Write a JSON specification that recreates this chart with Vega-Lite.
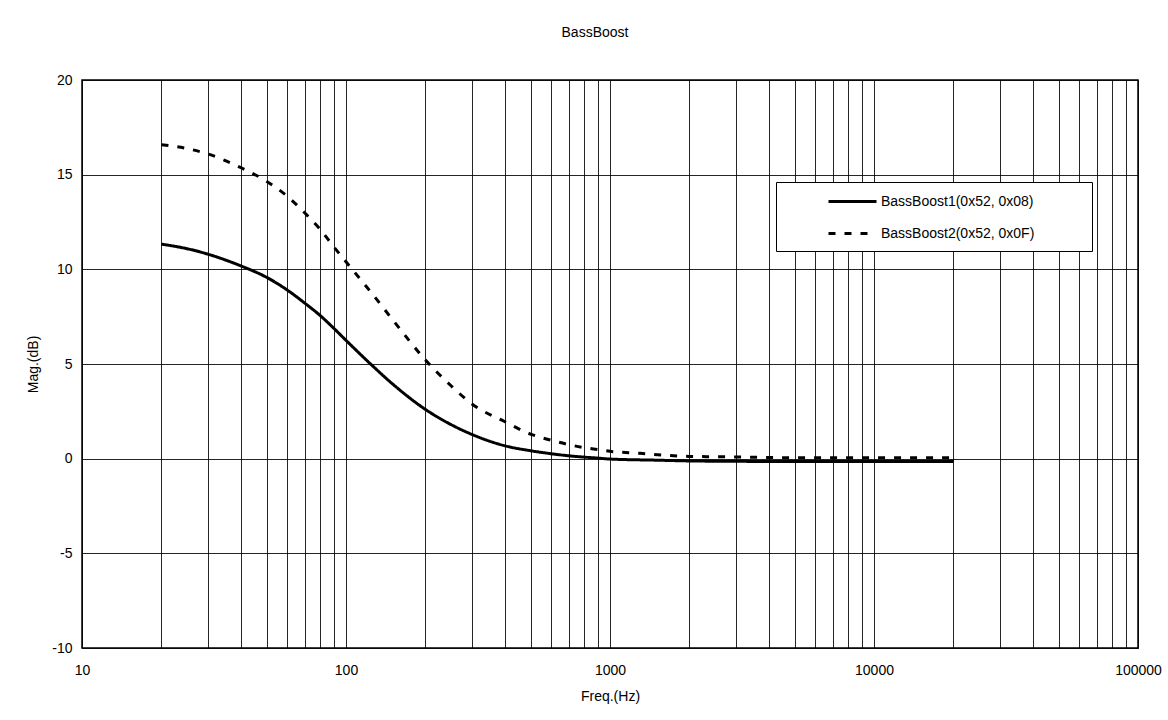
{
  "$schema": "https://vega.github.io/schema/vega-lite/v6.json",
  "autosize": {"type": "none"},
  "padding": {"left": 82, "top": 80, "right": 30, "bottom": 72},
  "width": 1056,
  "height": 568,
  "background": "white",
  "title": {"text": "BassBoost", "anchor": "middle", "frame": "group", "offset": 33, "dx": -15, "font": "Liberation Sans", "fontSize": 14, "fontWeight": "normal", "color": "black"},
  "config": {
    "view": {"stroke": "black", "strokeWidth": 1.5},
    "axis": {"labelFont": "Liberation Sans", "labelFontSize": 14, "labelColor": "black", "titleFont": "Liberation Sans", "titleFontSize": 14, "titleFontWeight": "normal", "titleColor": "black", "domain": false, "ticks": false, "grid": true, "gridColor": "black", "gridOpacity": 0.85, "gridWidth": 1}
  },
  "data": {"values": [
    {"f": 20, "mag": 11.33, "series": "BassBoost1(0x52, 0x08)"},
    {"f": 25, "mag": 11.09, "series": "BassBoost1(0x52, 0x08)"},
    {"f": 30, "mag": 10.80, "series": "BassBoost1(0x52, 0x08)"},
    {"f": 40, "mag": 10.18, "series": "BassBoost1(0x52, 0x08)"},
    {"f": 50, "mag": 9.58, "series": "BassBoost1(0x52, 0x08)"},
    {"f": 60, "mag": 8.90, "series": "BassBoost1(0x52, 0x08)"},
    {"f": 70, "mag": 8.20, "series": "BassBoost1(0x52, 0x08)"},
    {"f": 80, "mag": 7.55, "series": "BassBoost1(0x52, 0x08)"},
    {"f": 90, "mag": 6.88, "series": "BassBoost1(0x52, 0x08)"},
    {"f": 100, "mag": 6.25, "series": "BassBoost1(0x52, 0x08)"},
    {"f": 125, "mag": 4.95, "series": "BassBoost1(0x52, 0x08)"},
    {"f": 150, "mag": 3.95, "series": "BassBoost1(0x52, 0x08)"},
    {"f": 200, "mag": 2.60, "series": "BassBoost1(0x52, 0x08)"},
    {"f": 250, "mag": 1.80, "series": "BassBoost1(0x52, 0x08)"},
    {"f": 300, "mag": 1.28, "series": "BassBoost1(0x52, 0x08)"},
    {"f": 400, "mag": 0.68, "series": "BassBoost1(0x52, 0x08)"},
    {"f": 500, "mag": 0.42, "series": "BassBoost1(0x52, 0x08)"},
    {"f": 600, "mag": 0.26, "series": "BassBoost1(0x52, 0x08)"},
    {"f": 700, "mag": 0.15, "series": "BassBoost1(0x52, 0x08)"},
    {"f": 800, "mag": 0.08, "series": "BassBoost1(0x52, 0x08)"},
    {"f": 900, "mag": 0.03, "series": "BassBoost1(0x52, 0x08)"},
    {"f": 1000, "mag": -0.02, "series": "BassBoost1(0x52, 0x08)"},
    {"f": 1500, "mag": -0.08, "series": "BassBoost1(0x52, 0x08)"},
    {"f": 2000, "mag": -0.12, "series": "BassBoost1(0x52, 0x08)"},
    {"f": 3000, "mag": -0.14, "series": "BassBoost1(0x52, 0x08)"},
    {"f": 5000, "mag": -0.15, "series": "BassBoost1(0x52, 0x08)"},
    {"f": 10000, "mag": -0.15, "series": "BassBoost1(0x52, 0x08)"},
    {"f": 20000, "mag": -0.15, "series": "BassBoost1(0x52, 0x08)"},
    {"f": 20, "mag": 16.58, "series": "BassBoost2(0x52, 0x0F)"},
    {"f": 25, "mag": 16.38, "series": "BassBoost2(0x52, 0x0F)"},
    {"f": 30, "mag": 16.09, "series": "BassBoost2(0x52, 0x0F)"},
    {"f": 40, "mag": 15.37, "series": "BassBoost2(0x52, 0x0F)"},
    {"f": 50, "mag": 14.65, "series": "BassBoost2(0x52, 0x0F)"},
    {"f": 60, "mag": 13.85, "series": "BassBoost2(0x52, 0x0F)"},
    {"f": 70, "mag": 12.96, "series": "BassBoost2(0x52, 0x0F)"},
    {"f": 80, "mag": 12.10, "series": "BassBoost2(0x52, 0x0F)"},
    {"f": 90, "mag": 11.18, "series": "BassBoost2(0x52, 0x0F)"},
    {"f": 100, "mag": 10.40, "series": "BassBoost2(0x52, 0x0F)"},
    {"f": 125, "mag": 8.75, "series": "BassBoost2(0x52, 0x0F)"},
    {"f": 150, "mag": 7.35, "series": "BassBoost2(0x52, 0x0F)"},
    {"f": 200, "mag": 5.21, "series": "BassBoost2(0x52, 0x0F)"},
    {"f": 250, "mag": 3.85, "series": "BassBoost2(0x52, 0x0F)"},
    {"f": 300, "mag": 2.89, "series": "BassBoost2(0x52, 0x0F)"},
    {"f": 400, "mag": 1.95, "series": "BassBoost2(0x52, 0x0F)"},
    {"f": 500, "mag": 1.30, "series": "BassBoost2(0x52, 0x0F)"},
    {"f": 600, "mag": 0.97, "series": "BassBoost2(0x52, 0x0F)"},
    {"f": 700, "mag": 0.74, "series": "BassBoost2(0x52, 0x0F)"},
    {"f": 800, "mag": 0.58, "series": "BassBoost2(0x52, 0x0F)"},
    {"f": 900, "mag": 0.48, "series": "BassBoost2(0x52, 0x0F)"},
    {"f": 1000, "mag": 0.39, "series": "BassBoost2(0x52, 0x0F)"},
    {"f": 1300, "mag": 0.28, "series": "BassBoost2(0x52, 0x0F)"},
    {"f": 1600, "mag": 0.18, "series": "BassBoost2(0x52, 0x0F)"},
    {"f": 2000, "mag": 0.12, "series": "BassBoost2(0x52, 0x0F)"},
    {"f": 3000, "mag": 0.09, "series": "BassBoost2(0x52, 0x0F)"},
    {"f": 4000, "mag": 0.06, "series": "BassBoost2(0x52, 0x0F)"},
    {"f": 5000, "mag": 0.05, "series": "BassBoost2(0x52, 0x0F)"},
    {"f": 10000, "mag": 0.05, "series": "BassBoost2(0x52, 0x0F)"},
    {"f": 20000, "mag": 0.05, "series": "BassBoost2(0x52, 0x0F)"}
  ]},
  "mark": {"type": "line", "color": "black", "strokeWidth": 3, "interpolate": "monotone", "clip": true},
  "encoding": {
    "x": {"field": "f", "type": "quantitative", "title": "Freq.(Hz)",
      "scale": {"type": "log", "domain": [10, 100000], "nice": false},
      "axis": {"values": [10,20,30,40,50,60,70,80,90,100,200,300,400,500,600,700,800,900,1000,2000,3000,4000,5000,6000,7000,8000,9000,10000,20000,30000,40000,50000,60000,70000,80000,90000,100000],
        "format": "d", "labelExpr": "indexof(['10','100','1000','10000','100000'], datum.label) >= 0 ? datum.label : ''", "labelPadding": 15, "labelFlush": false, "labelOverlap": false, "titlePadding": 12}},
    "y": {"field": "mag", "type": "quantitative", "title": "Mag.(dB)",
      "scale": {"domain": [-10, 20], "nice": false, "zero": false},
      "axis": {"values": [-10,-5,0,5,10,15,20], "labelExpr": "datum.value + ''", "labelPadding": 10, "titlePadding": 11}},
    "strokeDash": {"field": "series", "type": "nominal",
      "scale": {"domain": ["BassBoost1(0x52, 0x08)", "BassBoost2(0x52, 0x0F)"], "range": [[1, 0], [7, 9]]},
      "legend": {"title": "\u00a0", "titleOrient": "right", "titlePadding": 48, "titleFontSize": 14, "orient": "none", "legendX": 694, "legendY": 102,
        "strokeColor": "black", "fillColor": "white", "padding": 10,
        "symbolType": "M-3,0H3", "symbolSize": 256, "symbolStrokeWidth": 3, "symbolStrokeColor": "black", "symbolDashOffset": 0,
        "symbolOffset": 57, "labelOffset": 19, "rowPadding": 15,
        "labelFont": "Liberation Sans", "labelFontSize": 14, "labelColor": "black", "labelLimit": 400}}
  }
}
